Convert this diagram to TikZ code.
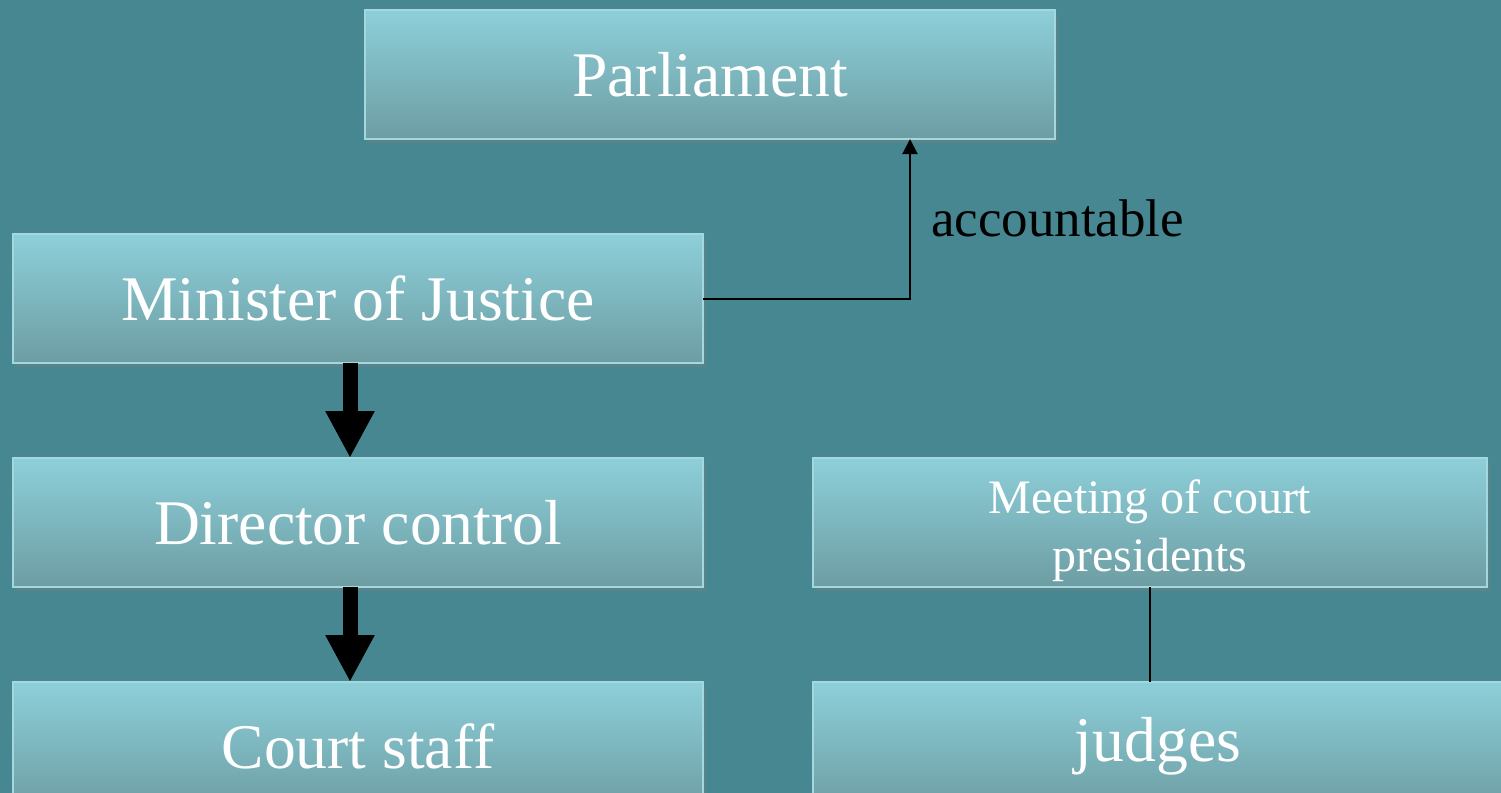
\documentclass[tikz,border=0pt]{standalone}
\usepackage{fontspec}
\setmainfont{Liberation Serif}
\usetikzlibrary{positioning, shadows, arrows.meta}
\definecolor{slidebg}{HTML}{468791}
\definecolor{boxtop}{HTML}{8DCFD9}
\definecolor{boxbottom}{HTML}{6D9DA3}
\definecolor{boxline}{HTML}{A3D8DF}
\tikzset{
	box/.style={
		rectangle,
		draw=boxline,
		line width=0.8pt,
		top color=boxtop,
		bottom color=boxbottom,
		drop shadow={shadow xshift=1.5pt, shadow yshift=-2pt, opacity=0.35},
		text=white,
		align=center,
		minimum width=345pt,
		minimum height=64.5pt,
		inner sep=0pt,
		outer sep=0pt,
		font=\fontsize{31.8}{38}\selectfont
	},
	small box/.style={
		box,
		minimum width=337pt,
		font=\fontsize{24}{29}\selectfont
	},
	down arrow/.style={line width=7.5pt, -{Triangle[width=23pt, length=23.5pt]}},
	link/.style={line width=1pt},
	report/.style={link, -{Triangle[width=7.5pt, length=7.5pt]}}
}

\begin{document}
\begin{tikzpicture}[x=0.5pt, y=-0.5pt, node distance=47.5pt and 55pt]
	\useasboundingbox (0,0) rectangle (1501,793);
	\clip (0,0) rectangle (1501,793);
	\fill[slidebg] (0,0) rectangle (1501,793);

	\node[box] (parliament) at (710,74.5) {Parliament};
	\node[box] (minister) at (358,298.5) {Minister of Justice};
	\node[box, below=of minister] (director) {Director control};
	\node[box, below=of director] (staff) {Court staff};
	\node[small box, right=of director] (meeting) {\rule{0pt}{25pt}Meeting of court\\presidents};
	\node[box, right=of staff] (judges) {judges};

	% chain of command
	\draw[down arrow] ([xshift=-4pt]minister.south) -- ([xshift=-4pt]director.north);
	\draw[down arrow] ([xshift=-4pt]director.south) -- ([xshift=-4pt]staff.north);

	\draw[report] (minister.east) -| ([xshift=100pt]parliament.south)
		node[pos=0.75, right=10pt, inner sep=0pt, font=\fontsize{26.5}{32}\selectfont] (acc) {accountable};
	\draw[link] (meeting.south) -- (meeting.south |- judges.north);
\end{tikzpicture}
\end{document}
